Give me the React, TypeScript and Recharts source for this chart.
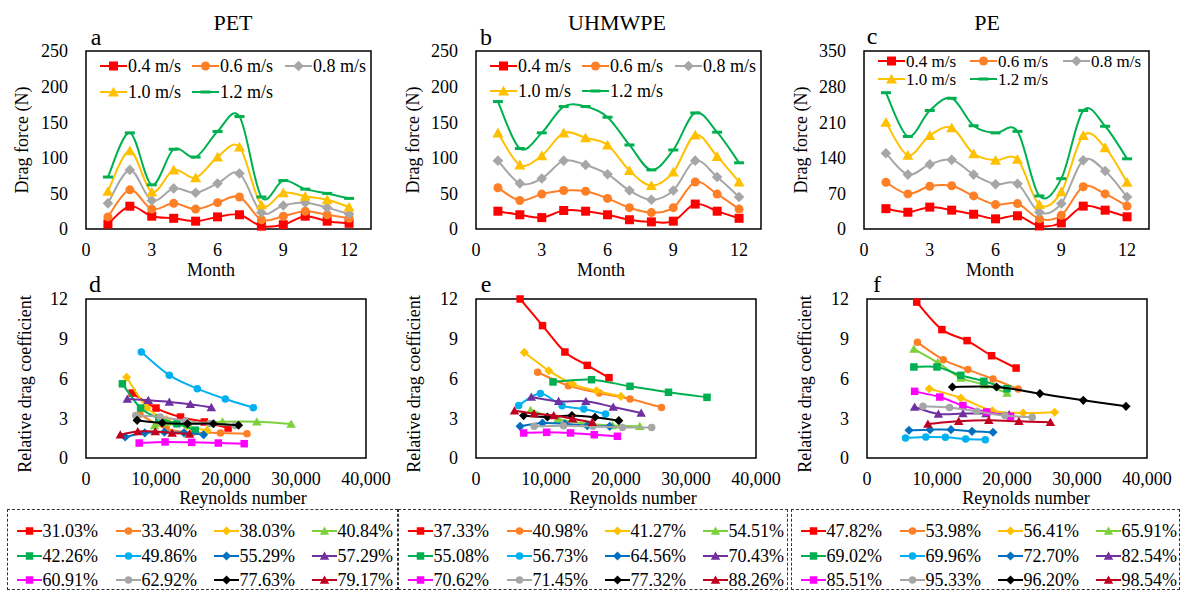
import React from 'react';
import { LineChart, Line, XAxis, YAxis, ReferenceArea, Legend, ScatterChart, Scatter, ZAxis } from 'recharts';

const FONT = '"Liberation Serif", "Times New Roman", serif';

// ---- top row: drag force by month ----
const months = [1, 2, 3, 4, 5, 6, 7, 8, 9, 10, 11, 12];
const speedLabels = ['0.4 m/s', '0.6 m/s', '0.8 m/s', '1.0 m/s', '1.2 m/s'];
const speedColors = ['#FF0000', '#FF7F27', '#A6A6A6', '#FFC000', '#00B050'];
const speedShapes = ['square', 'circle', 'diamond', 'triangle', 'dash'];

const petV04 = [7, 32, 18, 15, 11, 17, 20, 4, 6, 18, 11, 8];
const petV06 = [17, 55, 28, 36, 28, 37, 45, 13, 18, 25, 20, 15];
const petV08 = [36, 83, 40, 57, 51, 64, 78, 23, 33, 37, 30, 21];
const petV10 = [53, 110, 52, 83, 72, 101, 115, 34, 51, 46, 41, 31];
const petV12 = [73, 135, 62, 112, 101, 137, 158, 45, 68, 56, 50, 43];

const uhmwpeV04 = [25, 20, 16, 26, 25, 20, 13, 10, 11, 35, 25, 15];
const uhmwpeV06 = [58, 40, 49, 54, 53, 43, 30, 23, 30, 66, 49, 28];
const uhmwpeV08 = [96, 64, 71, 96, 90, 77, 54, 41, 54, 96, 73, 45];
const uhmwpeV10 = [135, 90, 103, 135, 128, 118, 82, 61, 80, 132, 102, 66];
const uhmwpeV12 = [179, 113, 135, 172, 172, 157, 118, 83, 111, 163, 136, 93];

const peV04 = [40, 33, 43, 37, 29, 20, 26, 6, 12, 45, 37, 24];
const peV06 = [92, 69, 84, 85, 65, 48, 50, 20, 27, 83, 69, 45];
const peV08 = [149, 107, 127, 136, 107, 88, 89, 33, 50, 135, 114, 63];
const peV10 = [210, 145, 184, 199, 148, 135, 137, 48, 73, 184, 160, 92];
const peV12 = [268, 182, 233, 257, 203, 189, 192, 65, 99, 233, 202, 138];

// ---- bottom row: relative drag coefficient vs Reynolds number ----
const groupColors = ['#FF0000', '#FF7F27', '#FFC000', '#7CD13B', '#00B050', '#00B0F0', '#0070C0', '#7030A0', '#FF00FF', '#A6A6A6', '#000000', '#C00020'];
const groupShapes = ['square', 'circle', 'diamond', 'triangle', 'square', 'circle', 'diamond', 'triangle', 'square', 'circle', 'diamond', 'triangle'];

const petLabels = ['31.03%', '33.40%', '38.03%', '40.84%', '42.26%', '49.86%', '55.29%', '57.29%', '60.91%', '62.92%', '77.63%', '79.17%'];
const petReynolds = [
  [6600, 10000, 13500, 16900, 20300],
  [7700, 11500, 15300, 19200, 23000],
  [5800, 8700, 11500, 14400, 17300],
  [9800, 14600, 19500, 24400, 29300],
  [5200, 7800, 10400, 13000, 15600],
  [7900, 11900, 15900, 19900, 23900],
  [5600, 8400, 11200, 14000, 16800],
  [5900, 8900, 11900, 14900, 17900],
  [7600, 11300, 15100, 18900, 22600],
  [7100, 10600, 14200, 17700, 21300],
  [7300, 10900, 14500, 18200, 21800],
  [4900, 7400, 9900, 12300, 14800],
];
const petCoef = [
  [4.9, 3.77, 3.09, 2.72, 2.26],
  [3.3, 2.2, 1.95, 1.89, 1.83],
  [6.1, 3.8, 2.9, 2.4, 2.08],
  [2.45, 2.6, 2.74, 2.74, 2.57],
  [5.6, 3.77, 3.0, 2.58, 2.1],
  [8.0, 6.25, 5.23, 4.45, 3.8],
  [1.58, 1.9, 1.95, 1.9, 1.76],
  [4.45, 4.35, 4.23, 4.05, 3.82],
  [1.13, 1.21, 1.18, 1.13, 1.08],
  [3.2, 3.1, 2.8, 2.6, 2.45],
  [2.84, 2.64, 2.59, 2.59, 2.47],
  [1.76, 2.0, 2.0, 1.89, 1.81],
];

const uhmwpeLabels = ['37.33%', '40.98%', '41.27%', '54.51%', '55.08%', '56.73%', '64.56%', '70.43%', '70.62%', '71.45%', '77.32%', '88.26%'];
const uhmwpeReynolds = [
  [6300, 9500, 12700, 15900, 19000],
  [8800, 13200, 17600, 22000, 26500],
  [6900, 10400, 13800, 17200, 20700],
  [7800, 11700, 15600, 19500, 23400],
  [11000, 16500, 22000, 27500, 33000],
  [6100, 9200, 12300, 15400, 18500],
  [6300, 9500, 12700, 15900, 19100],
  [7900, 11800, 15700, 19600, 23600],
  [6800, 10100, 13500, 16900, 20200],
  [8300, 12500, 16700, 20900, 25100],
  [6800, 10200, 13700, 17000, 20400],
  [5500, 8300, 11100, 13800, 16600],
];
const uhmwpeCoef = [
  [12.0, 9.99, 8.0, 6.99, 6.06],
  [6.47, 5.46, 4.9, 4.45, 3.82],
  [7.97, 6.59, 5.58, 5.08, 4.65],
  [3.6, 2.95, 2.6, 2.45, 2.39],
  [5.74, 5.91, 5.41, 4.96, 4.58],
  [3.97, 4.86, 3.95, 3.7, 3.32],
  [2.39, 2.64, 2.59, 2.44, 2.39],
  [4.6, 4.28, 4.28, 3.85, 3.4],
  [1.89, 1.94, 1.89, 1.76, 1.64],
  [2.39, 2.44, 2.39, 2.31, 2.31],
  [3.2, 3.1, 3.2, 3.07, 2.82],
  [3.57, 3.35, 3.2, 2.97, 2.69],
];

const peLabels = ['47.82%', '53.98%', '56.41%', '65.91%', '69.02%', '69.96%', '72.70%', '82.54%', '85.51%', '95.33%', '96.20%', '98.54%'];
const peReynolds = [
  [7100, 10700, 14300, 17800, 21300],
  [7200, 10900, 14400, 18000, 21600],
  [8900, 13400, 17900, 22300, 26800],
  [6700, 10100, 13400, 16800, 20000],
  [6700, 10000, 13400, 16700, 20000],
  [5500, 8400, 11200, 14100, 16900],
  [6000, 9000, 12000, 15000, 18000],
  [6800, 10200, 13700, 17000, 20300],
  [6800, 10400, 13700, 17100, 20500],
  [8000, 11800, 15700, 19700, 23600],
  [12200, 18500, 24700, 30900, 37000],
  [8700, 13100, 17400, 21700, 26200],
];
const peCoef = [
  [11.77, 9.69, 8.86, 7.72, 6.79],
  [8.73, 7.42, 6.67, 5.96, 5.21],
  [5.23, 4.53, 3.57, 3.4, 3.45],
  [8.23, 7.2, 6.04, 5.53, 4.9],
  [6.87, 6.87, 6.24, 5.79, 5.23],
  [1.51, 1.58, 1.56, 1.43, 1.38],
  [2.09, 2.14, 2.14, 2.01, 1.94],
  [3.85, 3.32, 3.35, 3.35, 3.27],
  [5.03, 4.6, 3.95, 3.47, 3.14],
  [3.9, 3.82, 3.52, 3.2, 3.07],
  [5.36, 5.36, 4.86, 4.35, 3.9],
  [2.57, 2.77, 2.84, 2.77, 2.69],
];

// Excel-like smoothed line (Catmull-Rom through the points)
const excelSmooth = (context: any) => {
  let pts: number[][] = [];
  return {
    areaStart() {},
    areaEnd() {},
    lineStart() { pts = []; },
    point(x: number, y: number) { pts.push([+x, +y]); },
    lineEnd() {
      if (!pts.length) return;
      context.moveTo(pts[0][0], pts[0][1]);
      for (let i = 0; i < pts.length - 1; i++) {
        const p0 = pts[i - 1] || pts[i];
        const p1 = pts[i];
        const p2 = pts[i + 1];
        const p3 = pts[i + 2] || p2;
        const t = 1 / 6;
        context.bezierCurveTo(
          p1[0] + (p2[0] - p0[0]) * t, p1[1] + (p2[1] - p0[1]) * t,
          p2[0] - (p3[0] - p1[0]) * t, p2[1] - (p3[1] - p1[1]) * t,
          p2[0], p2[1]
        );
      }
    },
  };
};

function Marker({ cx, cy, shape, color, size }: any) {
  if (cx == null || cy == null) return null;
  const h = size / 2;
  if (shape === 'square') return <rect x={cx - h} y={cy - h} width={size} height={size} fill={color} />;
  if (shape === 'circle') return <circle cx={cx} cy={cy} r={h} fill={color} />;
  if (shape === 'diamond') return <polygon points={`${cx},${cy - h - 0.8} ${cx + h + 0.8},${cy} ${cx},${cy + h + 0.8} ${cx - h - 0.8},${cy}`} fill={color} />;
  if (shape === 'triangle') return <polygon points={`${cx},${cy - h - 0.8} ${cx + h + 1},${cy + h} ${cx - h - 1},${cy + h}`} fill={color} />;
  return <rect x={cx - 5} y={cy - 1.5} width={10} height={3} fill={color} />;
}

function LegendIcon({ shape, color, len, size }: any) {
  return (
    <svg width={len} height={14} style={{ display: 'block', flex: 'none' }}>
      <line x1={0} y1={7} x2={len} y2={7} stroke={color} strokeWidth={2} />
      <Marker cx={len / 2} cy={7} shape={shape} color={color} size={size} />
    </svg>
  );
}

function GridLegend({ labels, colors, shapes, cols, rows, iconLen, size, boxed, fontSize = 18, lineH = 20 }: any) {
  const b = boxed ? 1.5 : 0;
  return (
    <div style={{ position: 'relative', width: '100%', height: '100%', boxSizing: 'border-box', border: boxed ? '1.5px dashed #333' : 'none' }}>
      {labels.map((lab: string, i: number) => (
        <div key={lab} style={{ position: 'absolute', left: cols[i % cols.length] - b, top: rows[Math.floor(i / cols.length)] - lineH / 2 - b, height: lineH, display: 'flex', alignItems: 'center', whiteSpace: 'nowrap' }}>
          <LegendIcon shape={shapes[i]} color={colors[i]} len={iconLen} size={size} />
          <span style={{ fontFamily: FONT, fontSize, color: '#000', marginLeft: 1, lineHeight: `${lineH}px` }}>{lab}</span>
        </div>
      ))}
    </div>
  );
}

const tickStyle = { fontFamily: FONT, fontSize: 18, fill: '#000' };

function DragPanel({ left, width, yWidth, series, yMax, yTicks, legendRows, legendFont, legendLine }: any) {
  const rows = months.map((m, i) => {
    const r: any = { month: m };
    series.forEach((s: number[], k: number) => { r['s' + k] = s[i]; });
    return r;
  });
  return (
    <div style={{ position: 'absolute', left, top: 0 }}>
      <LineChart width={width} height={290} data={rows} margin={{ top: 51, right: 9, bottom: 31, left: 0 }}>
        <XAxis dataKey="month" type="number" domain={[0, 13]} ticks={[0, 3, 6, 9, 12]} height={30} axisLine={false} tickLine={false} tickSize={0} tickMargin={14} tick={tickStyle} interval={0} />
        <YAxis type="number" domain={[0, yMax]} ticks={yTicks} width={yWidth} axisLine={false} tickLine={false} tickSize={0} tickMargin={18} tick={tickStyle} interval={0} />
        <ReferenceArea x1={0} x2={13} y1={0} y2={yMax} fill="none" stroke="#000" strokeWidth={1.5} ifOverflow="visible" />
        {series.map((_: number[], k: number) => (
          <Line
            key={k}
            dataKey={'s' + k}
            name={speedLabels[k]}
            type={excelSmooth as any}
            stroke={speedColors[k]}
            strokeWidth={2}
            isAnimationActive={false}
            activeDot={false}
            dot={(p: any) => <Marker key={`d${k}-${p.index}`} cx={p.cx} cy={p.cy} shape={speedShapes[k]} color={speedColors[k]} size={9} />}
          />
        ))}
        <Legend
          layout="horizontal"
          verticalAlign="middle"
          align="center"
          wrapperStyle={{ left: yWidth, top: 51, width: 285, height: 50 }}
          content={() => (
            <GridLegend labels={speedLabels} colors={speedColors} shapes={speedShapes} cols={[14, 106, 199]} rows={legendRows} iconLen={27} size={9} fontSize={legendFont} lineH={legendLine} />
          )}
        />
      </LineChart>
    </div>
  );
}

function CoefPanel({ left, width, yWidth, labels, reynolds, coef, boxLeft, boxWidth }: any) {
  return (
    <div style={{ position: 'absolute', left, top: 280 }}>
      <ScatterChart width={width} height={312} margin={{ top: 19, right: width - yWidth - 280, bottom: 104, left: 0 }}>
        <XAxis dataKey="x" type="number" domain={[0, 40000]} ticks={[0, 10000, 20000, 30000, 40000]} height={30} axisLine={false} tickLine={false} tickSize={0} tickMargin={14} tick={tickStyle} interval={0} tickFormatter={(v: number) => v.toLocaleString('en-US')} />
        <YAxis dataKey="y" type="number" domain={[0, 12]} ticks={[0, 3, 6, 9, 12]} width={yWidth} axisLine={false} tickLine={false} tickSize={0} tickMargin={18} tick={tickStyle} interval={0} />
        <ZAxis range={[50, 50]} />
        <ReferenceArea x1={0} x2={40000} y1={0} y2={12} fill="none" stroke="#000" strokeWidth={1.5} ifOverflow="visible" />
        {labels.map((lab: string, i: number) => (
          <Scatter
            key={lab}
            name={lab}
            data={reynolds[i].map((x: number, j: number) => ({ x, y: coef[i][j] }))}
            fill={groupColors[i]}
            line={{ stroke: groupColors[i], strokeWidth: 2 }}
            lineType="joint"
            lineJointType={excelSmooth as any}
            isAnimationActive={false}
            shape={(p: any) => <Marker cx={p.cx} cy={p.cy} shape={groupShapes[i]} color={groupColors[i]} size={7.5} />}
          />
        ))}
        <Legend
          layout="horizontal"
          verticalAlign="middle"
          align="center"
          wrapperStyle={{ left: boxLeft, top: 229, width: boxWidth, height: 81 }}
          content={() => (
            <GridLegend labels={labels} colors={groupColors} shapes={groupShapes} cols={[10, 109, 207, 305]} rows={[22, 47, 71]} iconLen={25} size={7.5} boxed />
          )}
        />
      </ScatterChart>
    </div>
  );
}

const t18 = { fontFamily: FONT, fontSize: 18, fill: '#000' };
const t22 = { fontFamily: FONT, fontSize: 22, fill: '#000' };
const t24 = { fontFamily: FONT, fontSize: 24, fill: '#000' };

export default function App() {
  return (
    <div style={{ position: 'fixed', left: 0, top: 0, width: 1182, height: 592, background: '#fff', overflow: 'hidden' }}>
      <DragPanel left={0} width={380} yWidth={86} series={[petV04, petV06, petV08, petV10, petV12]} yMax={250} yTicks={[0, 50, 100, 150, 200, 250]} legendRows={[15, 41]} legendFont={18} legendLine={20} />
      <DragPanel left={390} width={380} yWidth={86} series={[uhmwpeV04, uhmwpeV06, uhmwpeV08, uhmwpeV10, uhmwpeV12]} yMax={250} yTicks={[0, 50, 100, 150, 200, 250]} legendRows={[15, 40]} legendFont={18} legendLine={20} />
      <DragPanel left={780} width={378} yWidth={84} series={[peV04, peV06, peV08, peV10, peV12]} yMax={350} yTicks={[0, 70, 140, 210, 280, 350]} legendRows={[10, 28]} legendFont={17} legendLine={17} />

      <CoefPanel left={0} width={400} yWidth={86} labels={petLabels} reynolds={petReynolds} coef={petCoef} boxLeft={7} boxWidth={391} />
      <CoefPanel left={390} width={400} yWidth={86} labels={uhmwpeLabels} reynolds={uhmwpeReynolds} coef={uhmwpeCoef} boxLeft={8} boxWidth={390} />
      <CoefPanel left={780} width={402} yWidth={87} labels={peLabels} reynolds={peReynolds} coef={peCoef} boxLeft={11} boxWidth={389} />

      <svg width={1182} height={592} style={{ position: 'absolute', left: 0, top: 0, pointerEvents: 'none' }}>
        <text x={233} y={30} textAnchor="middle" style={t22}>PET</text>
        <text x={617} y={30} textAnchor="middle" style={t22}>UHMWPE</text>
        <text x={987} y={30} textAnchor="middle" style={t22}>PE</text>

        <text x={96} y={45} textAnchor="middle" style={t24}>a</text>
        <text x={486} y={45} textAnchor="middle" style={t24}>b</text>
        <text x={872} y={44} textAnchor="middle" style={t24}>c</text>
        <text x={95} y={292} textAnchor="middle" style={t24}>d</text>
        <text x={486} y={292} textAnchor="middle" style={t24}>e</text>
        <text x={877} y={292} textAnchor="middle" style={t24}>f</text>

        <text x={28} y={140} textAnchor="middle" transform="rotate(-90 28 140)" style={t18}>Drag force (N)</text>
        <text x={419} y={140} textAnchor="middle" transform="rotate(-90 419 140)" style={t18}>Drag force (N)</text>
        <text x={807} y={140} textAnchor="middle" transform="rotate(-90 807 140)" style={t18}>Drag force (N)</text>

        <text x={31} y={384} textAnchor="middle" transform="rotate(-90 31 384)" style={t18}>Relative drag coefficient</text>
        <text x={420} y={384} textAnchor="middle" transform="rotate(-90 420 384)" style={t18}>Relative drag coefficient</text>
        <text x={811} y={384} textAnchor="middle" transform="rotate(-90 811 384)" style={t18}>Relative drag coefficient</text>

        <text x={211} y={276} textAnchor="middle" style={t18}>Month</text>
        <text x={601} y={276} textAnchor="middle" style={t18}>Month</text>
        <text x={990} y={276} textAnchor="middle" style={t18}>Month</text>

        <text x={243} y={504} textAnchor="middle" style={t18}>Reynolds number</text>
        <text x={633} y={504} textAnchor="middle" style={t18}>Reynolds number</text>
        <text x={1026} y={504} textAnchor="middle" style={t18}>Reynolds number</text>
      </svg>
    </div>
  );
}
